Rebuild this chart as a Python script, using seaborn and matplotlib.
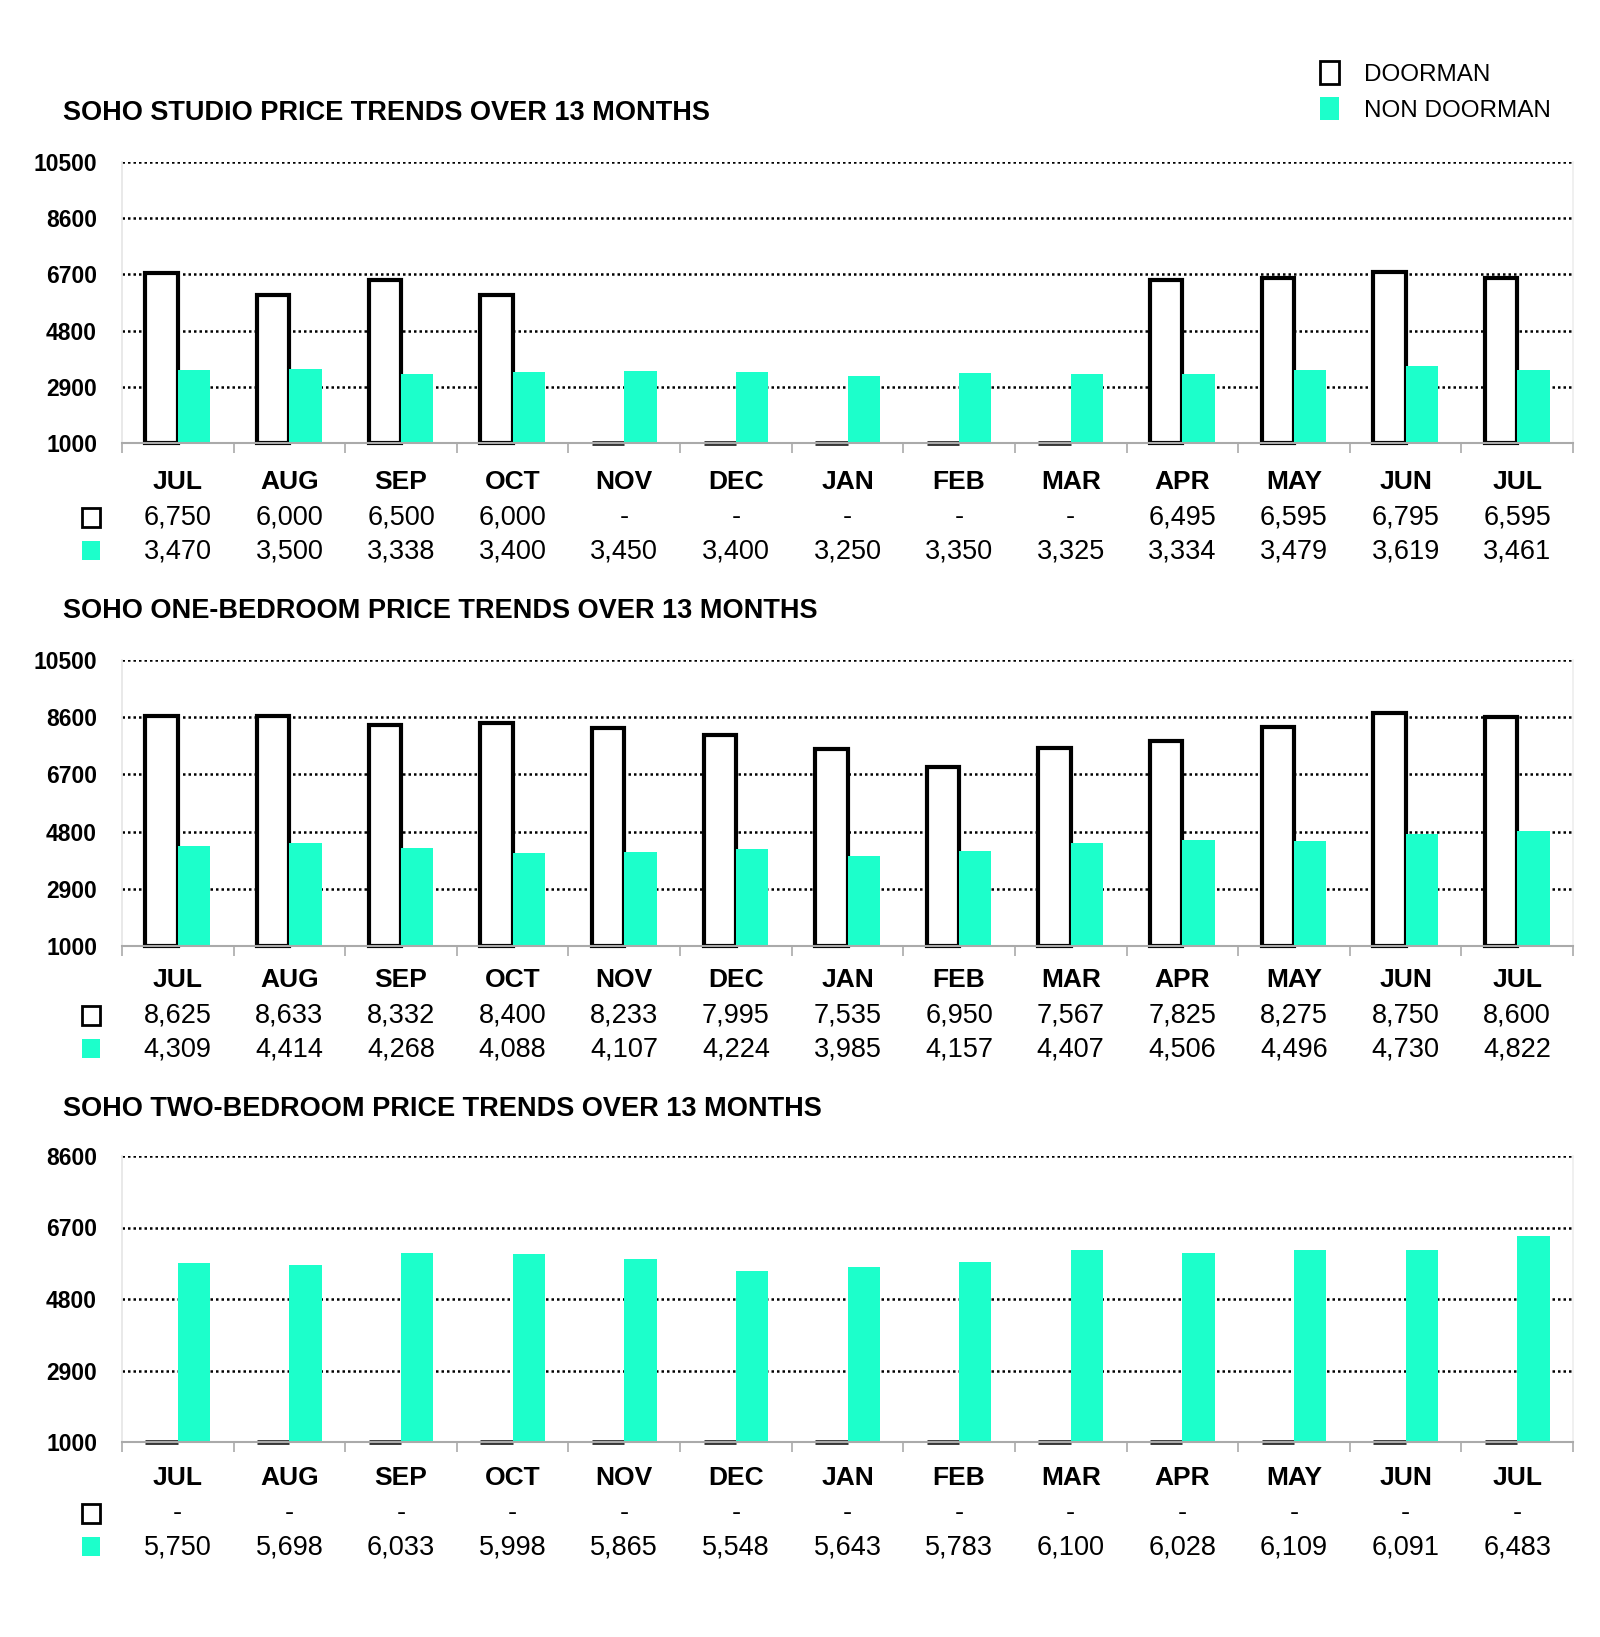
import matplotlib
matplotlib.use("Agg")
import matplotlib.pyplot as plt
import seaborn as sns
import pandas as pd
from matplotlib.patches import Rectangle, Patch
from matplotlib.transforms import blended_transform_factory

# Data
months = ["JUL", "AUG", "SEP", "OCT", "NOV", "DEC", "JAN",
          "FEB", "MAR", "APR", "MAY", "JUN", "JUL"]

studio_doorman = [6750, 6000, 6500, 6000, None, None, None, None, None,
                  6495, 6595, 6795, 6595]
studio_non_doorman = [3470, 3500, 3338, 3400, 3450, 3400, 3250, 3350, 3325,
                      3334, 3479, 3619, 3461]

one_bed_doorman = [8625, 8633, 8332, 8400, 8233, 7995, 7535, 6950, 7567,
                   7825, 8275, 8750, 8600]
one_bed_non_doorman = [4309, 4414, 4268, 4088, 4107, 4224, 3985, 4157, 4407,
                       4506, 4496, 4730, 4822]

two_bed_doorman = [None, None, None, None, None, None, None, None, None,
                   None, None, None, None]
two_bed_non_doorman = [5750, 5698, 6033, 5998, 5865, 5548, 5643, 5783, 6100,
                       6028, 6109, 6091, 6483]

titles = ["SOHO STUDIO PRICE TRENDS OVER 13 MONTHS",
          "SOHO ONE-BEDROOM PRICE TRENDS OVER 13 MONTHS",
          "SOHO TWO-BEDROOM PRICE TRENDS OVER 13 MONTHS"]
y_ticks = [[1000, 2900, 4800, 6700, 8600, 10500],
           [1000, 2900, 4800, 6700, 8600, 10500],
           [1000, 2900, 4800, 6700, 8600]]

panels = [(studio_doorman, studio_non_doorman),
          (one_bed_doorman, one_bed_non_doorman),
          (two_bed_doorman, two_bed_non_doorman)]

hue_order = ["DOORMAN", "NON DOORMAN"]
teal = "#1CFFCB"
palette = {"DOORMAN": "white", "NON DOORMAN": teal}

# Layout (figure pixels)
W, H = 1600, 1637
ax_left, ax_right = 122, 1573
ax_tops = [162, 660, 1156]
ax_bottoms = [443, 946, 1442]
step = 498
title_y, month_y, door_y, non_y = 113, 482, 517, 551

sns.set_theme(style="white")
plt.rcParams['font.family'] = ['Liberation Sans', 'DejaVu Sans']
plt.rcParams['text.color'] = 'black'
plt.rcParams['ytick.color'] = 'black'
plt.rcParams['ytick.labelcolor'] = 'black'

fig = plt.figure(figsize=(W / 100, H / 100), dpi=100)


def fy(px):
    return 1 - px / H


def fmt(v):
    return "-" if v is None else f"{v:,}"


for k, (door, non) in enumerate(panels):
    base = y_ticks[k][0]
    rows = []
    for i in range(len(months)):
        rows.append({"idx": i, "group": "DOORMAN",
                     "price": base if door[i] is None else door[i]})
        rows.append({"idx": i, "group": "NON DOORMAN", "price": non[i]})
    df = pd.DataFrame(rows)

    ax = fig.add_axes([ax_left / W, fy(ax_bottoms[k]),
                       (ax_right - ax_left) / W,
                       (ax_bottoms[k] - ax_tops[k]) / H])
    sns.barplot(data=df, x="idx", y="price", hue="group", hue_order=hue_order,
                order=list(range(len(months))), palette=palette, width=0.58,
                saturation=1, legend=False, ax=ax)

    # bars start at the axis floor
    for c_i, cont in enumerate(ax.containers):
        for bar in cont:
            h = bar.get_height()
            bar.set_y(base)
            bar.set_height(h - base)
            if c_i == 0:
                bar.set_edgecolor("black" if h > base else "#333333")
                bar.set_linewidth(3 if h > base else 3.5)
                bar.set_clip_on(False)
            else:
                bar.set_linewidth(0)

    ax.set_ylim(base, y_ticks[k][-1])
    ax.set_xlim(-0.5, len(months) - 0.5)
    ax.set_yticks(y_ticks[k])
    ax.set_yticklabels([str(t) for t in y_ticks[k]], fontsize=16.5,
                       fontweight="bold", color="black")
    ax.tick_params(axis="y", length=0, pad=18)
    ax.set_xticks([])
    ax.set_xticks([i - 0.5 for i in range(len(months) + 1)], minor=True)
    ax.tick_params(axis="x", which="minor", length=7, width=1.2,
                   color="#aaaaaa", direction="out", bottom=True)
    ax.set_xlabel("")
    ax.set_ylabel("")

    ax.set_axisbelow(True)
    ax.yaxis.grid(True, linestyle=(0, (1, 1.2)), color="black", linewidth=1.8)
    ax.yaxis.get_gridlines()[0].set_visible(False)
    ax.spines["top"].set_visible(False)
    ax.spines["left"].set_color("#e6e6e6")
    ax.spines["right"].set_color("#eeeeee")
    ax.spines["bottom"].set_color("#aaaaaa")
    ax.spines["bottom"].set_linewidth(1.5)

    off = k * step
    fig.text(63 / W, fy(title_y + off), titles[k], fontsize=19.5,
             fontweight="bold", ha="left", va="center", color="black")

    tr = blended_transform_factory(ax.transData, fig.transFigure)
    for i, m in enumerate(months):
        ax.text(i, fy(month_y + off), m, transform=tr, ha="center",
                va="center", fontsize=19, fontweight="bold", color="black")
        ax.text(i, fy(door_y + off), fmt(door[i]), transform=tr,
                ha="center", va="center", fontsize=19.5, color="black")
        ax.text(i, fy(non_y + off), fmt(non[i]), transform=tr,
                ha="center", va="center", fontsize=19.5, color="black")

    # row keys of the table
    fig.patches.append(Rectangle((82 / W, fy(door_y + off + 10)), 18 / W, 19 / H,
                                 transform=fig.transFigure, facecolor="white",
                                 edgecolor="black", linewidth=2))
    fig.patches.append(Rectangle((82 / W, fy(non_y + off + 9)), 18 / W, 19 / H,
                                 transform=fig.transFigure, facecolor=teal,
                                 edgecolor="none"))

handles = [Patch(facecolor="white", edgecolor="black", linewidth=2),
           Patch(facecolor=teal, edgecolor="none")]
fig.legend(handles, hue_order, loc="upper left",
           bbox_to_anchor=(1315 / W, fy(56)), frameon=False, fontsize=17.5,
           handlelength=0.8, handleheight=1.1, handletextpad=1.0,
           labelspacing=0.45, borderaxespad=0, borderpad=0.2,
           labelcolor="black")

plt.savefig("out.png", dpi=100)
